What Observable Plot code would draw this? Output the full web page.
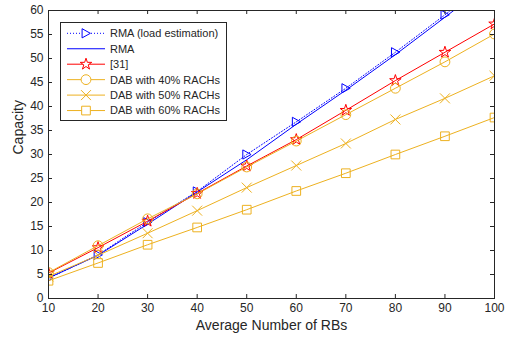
<!DOCTYPE html>
<html><head><meta charset="utf-8">
<script src="https://cdn.jsdelivr.net/npm/d3@7"></script>
<script src="https://cdn.jsdelivr.net/npm/@observablehq/plot@0.6"></script>
<style>
body{margin:0;background:#fff;}
#wrap{position:relative;width:508px;height:339px;font-family:"Liberation Sans",Arial,sans-serif;}
#legend{position:absolute;left:0;top:0;pointer-events:none;}
</style>
</head><body><div id="wrap"></div>
<script>
// ---- data ----
const rbs = [10, 20, 30, 40, 50, 60, 70, 80, 90, 100];
const rmaLoadEst = [4.2, 9.1, 15.9, 22.3, 30.0, 36.8, 43.8, 51.3, 59.1, 67.0];
const rma = [4.3, 9.0, 15.5, 22.2, 28.9, 36.3, 43.4, 50.8, 58.6, 66.5];
const ref31 = [5.3, 10.6, 16.1, 21.9, 27.6, 33.1, 39.2, 45.4, 51.3, 57.2];
const dab40 = [5.4, 11.0, 16.6, 21.8, 27.4, 32.8, 38.3, 43.8, 49.3, 55.1];
const dab50 = [4.6, 9.0, 13.6, 18.3, 23.1, 27.7, 32.3, 37.3, 41.7, 46.4];
const dab60 = [3.7, 7.4, 11.2, 14.8, 18.5, 22.4, 26.1, 30.0, 33.8, 37.7];
const seriesNames = ["RMA (load estimation)", "RMA", "[31]", "DAB with 40% RACHs", "DAB with 50% RACHs", "DAB with 60% RACHs"];
const xTicks = [10, 20, 30, 40, 50, 60, 70, 80, 90, 100];
const yTicks = [0, 5, 10, 15, 20, 25, 30, 35, 40, 45, 50, 55, 60];
const xLabel = "Average Number of RBs";
const yLabel = "Capacity";

// ---- styles ----
const triangleRight = {
  draw(context, size) {
    const r = Math.sqrt(size / Math.PI);
    context.moveTo(-0.85 * r, -r);
    context.lineTo(0.95 * r, 0);
    context.lineTo(-0.85 * r, r);
    context.closePath();
  }
};
const gold = "#EDB120";
const styles = [
  {color: "#0000FF", dash: "1,2", symbol: triangleRight, r: 4.6},
  {color: "#0000FF", dash: null, symbol: null, r: 0},
  {color: "#FF0000", dash: null, symbol: d3.symbolStar, r: 3.6},
  {color: gold, dash: null, symbol: d3.symbolCircle, r: 4.9},
  {color: gold, dash: null, symbol: d3.symbolTimes, r: 4.6},
  {color: gold, dash: null, symbol: d3.symbolSquare, r: 4.9}
];
const allValues = [rmaLoadEst, rma, ref31, dab40, dab50, dab60];

const W = 508, H = 339, mL = 48, mR = 14, mT = 10, mB = 41;
const innerW = W - mL - mR, innerH = H - mT - mB;
const axisColor = "#262626";

const marks = [];
allValues.forEach((vals, i) => {
  const rows = rbs.map((x, j) => ({x, y: vals[j]}));
  const s = styles[i];
  marks.push(Plot.line(rows, {x: "x", y: "y", stroke: s.color, strokeWidth: 1, strokeDasharray: s.dash, clip: true}));
  if (s.symbol) {
    marks.push(Plot.dot(rows, {x: "x", y: "y", symbol: s.symbol, r: s.r, stroke: s.color, fill: "none", strokeWidth: 1, clip: true}));
  }
});

const chart = Plot.plot({
  width: W, height: H,
  marginLeft: mL, marginRight: mR, marginTop: mT, marginBottom: mB,
  style: {fontFamily: '"Liberation Sans", Arial, sans-serif', color: axisColor, background: "#fff"},
  x: {domain: [10, 100], axis: null},
  y: {domain: [0, 60], axis: null},
  marks: [
    ...marks,
    Plot.frame({stroke: axisColor, strokeWidth: 1}),
    Plot.tickX(xTicks, {x: d => d, stroke: axisColor, insetTop: innerH - 4}),
    Plot.tickX(xTicks, {x: d => d, stroke: axisColor, insetBottom: innerH - 4}),
    Plot.tickY(yTicks, {y: d => d, stroke: axisColor, insetRight: innerW - 4}),
    Plot.tickY(yTicks, {y: d => d, stroke: axisColor, insetLeft: innerW - 4}),
    Plot.axisX({ticks: xTicks, tickSize: 0, tickPadding: 5, fontSize: 12, label: null, tickFormat: d => String(d)}),
    Plot.axisY({ticks: yTicks, tickSize: 0, tickPadding: 5, fontSize: 12, label: null, tickFormat: d => String(d)}),
    Plot.text([xLabel], {frameAnchor: "bottom", dy: 31, fontSize: 14, text: d => d, fill: axisColor}),
    Plot.text([yLabel], {frameAnchor: "left", dx: -30, rotate: -90, fontSize: 14, text: d => d, fill: axisColor})
  ]
});
const wrap = document.getElementById("wrap");
wrap.appendChild(chart);

// ---- legend overlay ----
const lg = d3.select(wrap).append("svg").attr("id", "legend").attr("width", W).attr("height", H);
const box = {x: 60.5, y: 22.5, w: 166, h: 98};
lg.append("rect").attr("x", box.x).attr("y", box.y).attr("width", box.w).attr("height", box.h)
  .attr("fill", "#fff").attr("stroke", axisColor).attr("stroke-width", 1);
seriesNames.forEach((name, i) => {
  const s = styles[i];
  const y = 33.3 + i * 15.45;
  lg.append("line").attr("x1", 67).attr("x2", 105).attr("y1", y).attr("y2", y)
    .attr("stroke", s.color).attr("stroke-width", 1).attr("stroke-dasharray", s.dash);
  if (s.symbol) {
    lg.append("path").attr("transform", `translate(86,${y})`)
      .attr("d", d3.symbol(s.symbol, Math.PI * s.r * s.r)())
      .attr("fill", "#fff").attr("stroke", s.color).attr("stroke-width", 1);
  }
  lg.append("text").attr("x", 110).attr("y", y).attr("dy", "0.35em")
    .attr("font-size", 11).attr("fill", axisColor)
    .attr("font-family", '"Liberation Sans", Arial, sans-serif').text(name);
});
</script>
</body></html>
